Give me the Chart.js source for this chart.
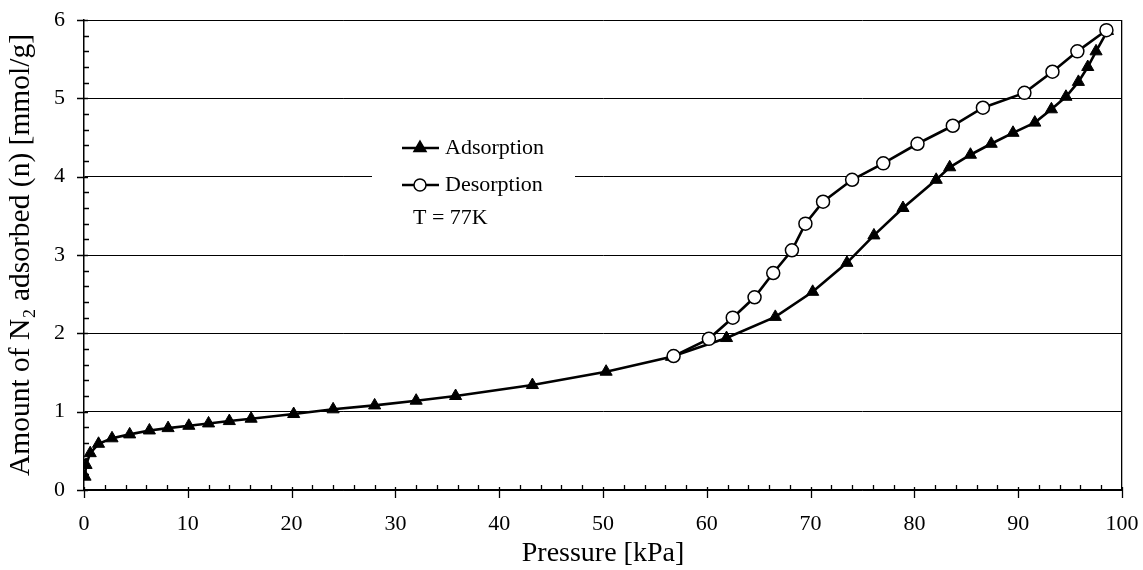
<!DOCTYPE html>
<html>
<head>
<meta charset="utf-8">
<script src="https://cdn.jsdelivr.net/npm/chart.js@4/dist/chart.umd.min.js"></script>
<style>
  html, body { margin: 0; padding: 0; background: #fff; }
  #wrap { width: 1143px; height: 570px; }
</style>
</head>
<body>
<div id="wrap"><canvas id="chartOne"></canvas></div>
<script>
var adsX = [0.1, 0.2, 0.6, 1.4, 2.7, 4.4, 6.3, 8.1, 10.1, 12.0, 14.0, 16.1, 20.2, 24.0, 28.0, 32.0, 35.8, 43.2, 50.3, 56.6, 61.9, 66.6, 70.2, 73.5, 76.1, 78.9, 82.1, 83.4, 85.4, 87.4, 89.5, 91.6, 93.2, 94.6, 95.8, 96.7, 97.5, 98.6]
var adsY = [0.17, 0.32, 0.47, 0.59, 0.66, 0.71, 0.76, 0.79, 0.82, 0.85, 0.88, 0.91, 0.97, 1.03, 1.08, 1.14, 1.20, 1.34, 1.51, 1.70, 1.94, 2.21, 2.53, 2.90, 3.25, 3.60, 3.96, 4.12, 4.28, 4.42, 4.56, 4.69, 4.86, 5.02, 5.21, 5.40, 5.60, 5.86]
var desX = [56.8, 60.2, 62.5, 64.6, 66.4, 68.2, 69.5, 71.2, 74.0, 77.0, 80.3, 83.7, 86.6, 90.6, 93.3, 95.7, 98.5]
var desY = [1.71, 1.93, 2.20, 2.46, 2.77, 3.06, 3.40, 3.68, 3.96, 4.17, 4.42, 4.65, 4.88, 5.07, 5.34, 5.60, 5.87]
var seriesNames = ["Adsorption", "Desorption"]
var xTicks = [0, 10, 20, 30, 40, 50, 60, 70, 80, 90, 100]
var yTicks = [0, 1, 2, 3, 4, 5, 6]
var note = "T = 77K"

function pts(xs, ys) {
    return xs.map(function (x, i) { return { x: x, y: ys[i] } })
}

var serif = "'Liberation Serif', 'Times New Roman', serif"

// keep the plot box fixed: no extra room for the end labels
function noPad(s) {
    s.paddingLeft = 0
    s.paddingRight = 0
    s.paddingTop = 0
    s.paddingBottom = 0
}

// minor ticks inside, major ticks crossing the axes
var axisTicks = {
    id: "axisTicks",
    afterDraw: function (chart) {
        var ctx = chart.ctx, xs = chart.scales.x, ys = chart.scales.y
        var a = chart.chartArea
        ctx.save()
        ctx.strokeStyle = "#000"
        ctx.lineWidth = 1.3
        ctx.beginPath()
        for (var v = 0; v <= 100; v += 2) {
            var px = Math.round(xs.getPixelForValue(v)) + 0.5
            if (v % 10 === 0) { ctx.moveTo(px, a.bottom - 3); ctx.lineTo(px, a.bottom + 8) }
            else { ctx.moveTo(px, a.bottom - 5); ctx.lineTo(px, a.bottom) }
        }
        for (var w = 0; w <= 6.001; w += 0.2) {
            var py = Math.round(ys.getPixelForValue(w)) + 0.5
            var major = Math.abs(w - Math.round(w)) < 0.01
            if (major) { ctx.moveTo(a.left - 7, py); ctx.lineTo(a.left + 4, py) }
            else { ctx.moveTo(a.left, py); ctx.lineTo(a.left + 5, py) }
        }
        ctx.stroke()
        ctx.restore()
    }
}

// white legend box inside the plot
var legendBox = {
    id: "legendBox",
    beforeDatasetsDraw: function (chart) {
        var ctx = chart.ctx
        ctx.save()
        ctx.fillStyle = "#fff"
        ctx.fillRect(372, 128, 203, 104)
        ctx.restore()
    },
    afterDatasetsDraw: function (chart) {
        var ctx = chart.ctx
        ctx.save()
        ctx.strokeStyle = "#000"
        var rows = [148, 185]
        rows.forEach(function (y, i) {
            ctx.lineWidth = 2.5
            ctx.beginPath()
            ctx.moveTo(402, y)
            ctx.lineTo(439, y)
            ctx.stroke()
            var style = i === 0 ? "triangle" : "circle"
            ctx.fillStyle = i === 0 ? "#000" : "#fff"
            ctx.lineWidth = 1.5
            Chart.helpers.drawPoint(ctx, { pointStyle: style, radius: i === 0 ? 7 : 6, borderWidth: 1.5 }, 420, y)
            ctx.fillStyle = "#000"
            ctx.font = "22px " + serif
            ctx.textBaseline = "middle"
            ctx.fillText(seriesNames[i], 445, y)
        })
        ctx.fillText(note, 413, 218)
        ctx.restore()
    }
}

var getChartOne = document.getElementById("chartOne")

var chartOne = new Chart(getChartOne, {
    type: "scatter",
    data: {
        datasets: [{
            label: seriesNames[0],
            data: pts(adsX, adsY),
            showLine: true,
            borderColor: "#000",
            borderWidth: 2.6,
            pointStyle: "triangle",
            pointRadius: 7,
            pointBackgroundColor: "#000",
            pointBorderColor: "#000",
            pointBorderWidth: 1,
            order: 1
        }, {
            label: seriesNames[1],
            data: pts(desX, desY),
            showLine: true,
            borderColor: "#000",
            borderWidth: 2.6,
            pointStyle: "circle",
            pointRadius: 6.5,
            pointBackgroundColor: "#fff",
            pointBorderColor: "#000",
            pointBorderWidth: 1.5,
            order: 0
        }]
    },
    options: {
        responsive: true,
        maintainAspectRatio: false,
        animation: false,
        layout: { padding: { top: 20, right: 21, left: 0, bottom: 0 } },
        plugins: {
            legend: { display: false },
            tooltip: { enabled: false }
        },
        scales: {
            x: {
                type: "linear",
                min: 0,
                max: 100,
                afterBuildTicks: function (s) { s.ticks = xTicks.map(function (v) { return { value: v } }) },
                afterFit: function (s) { s.height = 80; noPad(s) },
                ticks: { padding: 21, color: "#000", font: { family: serif, size: 22 }, maxRotation: 0 },
                grid: {
                    drawTicks: false,
                    lineWidth: 1.3,
                    color: function (c) { return c.tick && c.tick.value === 100 ? "#000" : "rgba(0,0,0,0)" }
                },
                border: { color: "#000", width: 1.5 },
                title: {
                    display: true,
                    text: "Pressure [kPa]",
                    color: "#000",
                    font: { family: serif, size: 28, lineHeight: 1.15 },
                    padding: { top: 0, bottom: 0 }
                }
            },
            y: {
                type: "linear",
                min: 0,
                max: 6,
                afterBuildTicks: function (s) { s.ticks = yTicks.map(function (v) { return { value: v } }) },
                afterFit: function (s) { s.width = 84; noPad(s) },
                ticks: { padding: 19, color: "#000", font: { family: serif, size: 22 } },
                grid: { drawTicks: false, color: "#000", lineWidth: 1 },
                border: { color: "#000", width: 1.5 },
                title: {
                    display: true,
                    text: "Amount of N\u2082 adsorbed (n) [mmol/g]",
                    color: "#000",
                    font: { family: serif, size: 29.5, lineHeight: 1.1 },
                    padding: { top: 5, bottom: 0 }
                }
            }
        }
    },
    plugins: [legendBox, axisTicks]
})
</script>
</body>
</html>
